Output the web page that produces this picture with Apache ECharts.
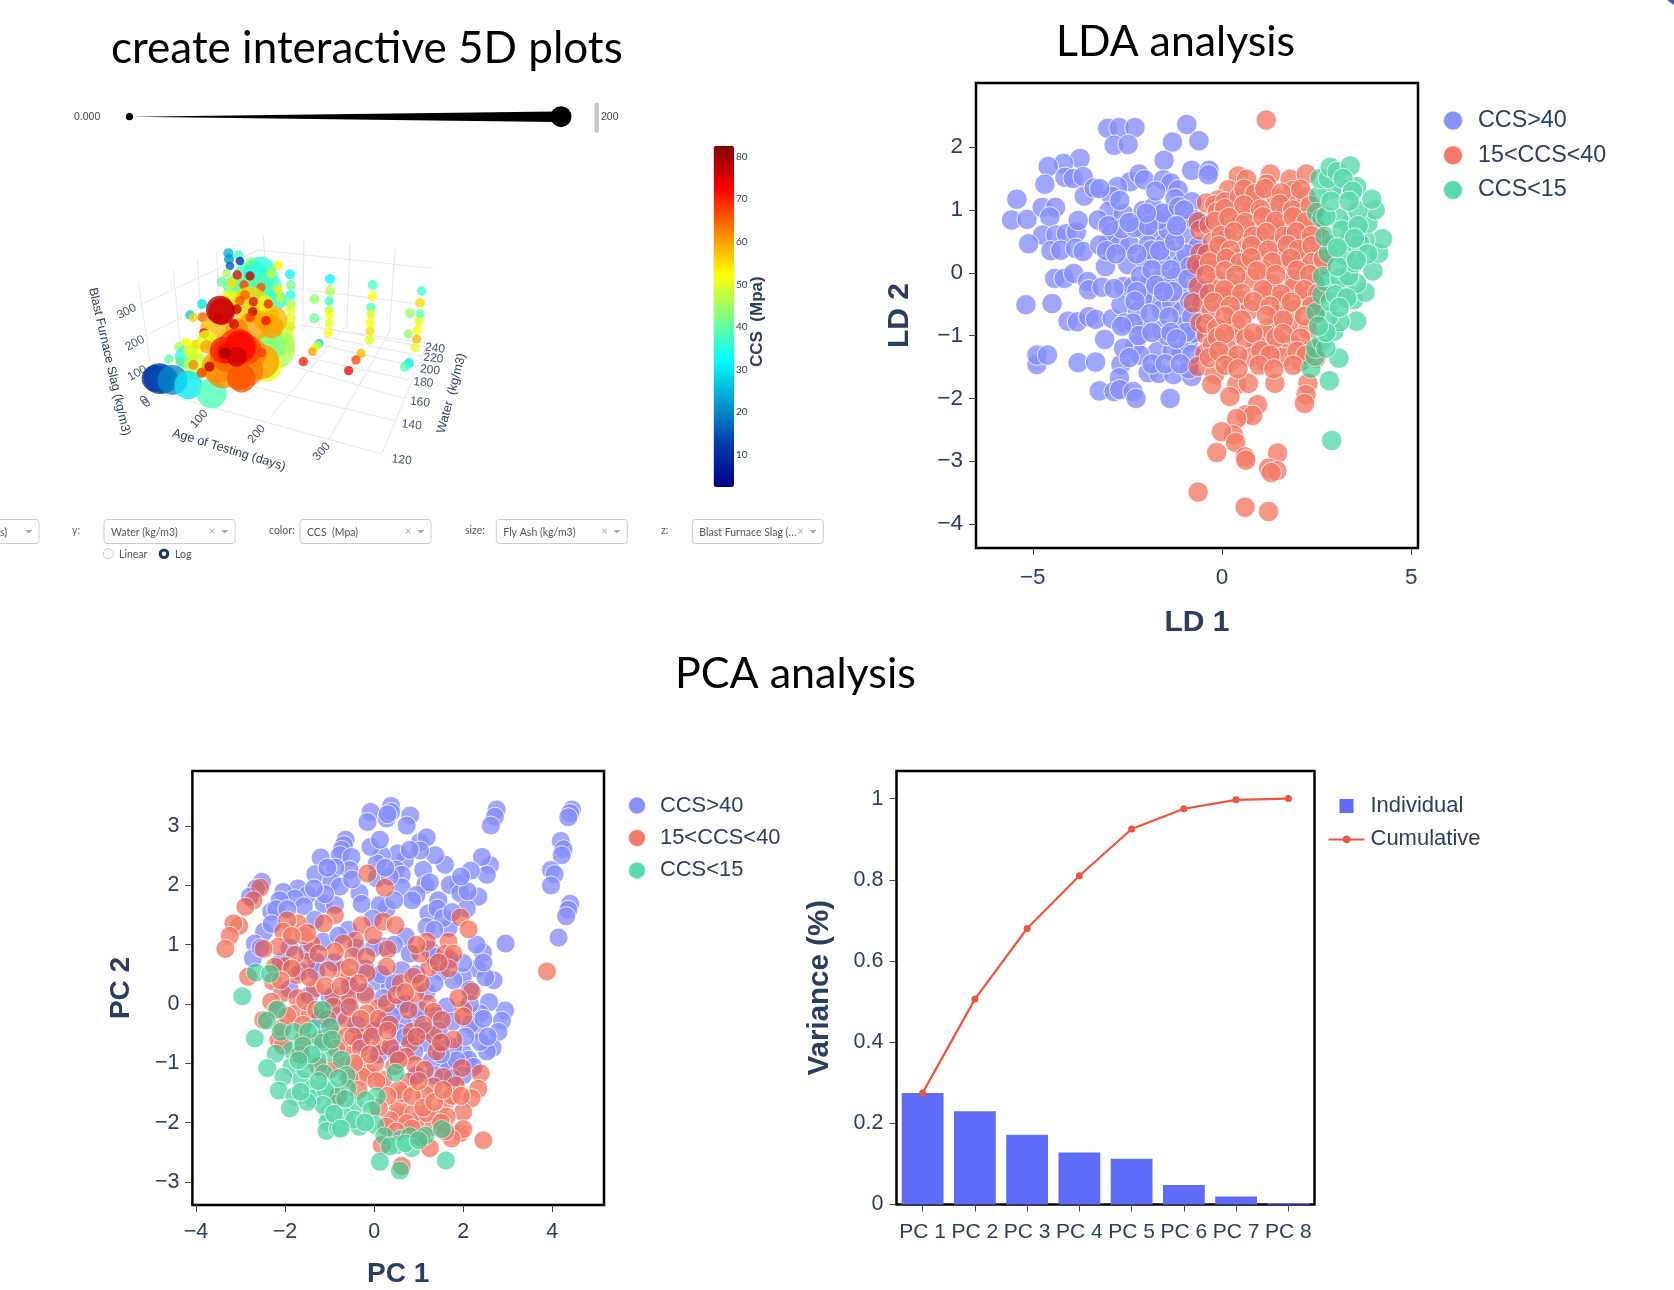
<!DOCTYPE html>
<html>
<head>
<meta charset="utf-8">
<title>5D, LDA and PCA analysis</title>
<script src="https://cdn.jsdelivr.net/npm/echarts@6/dist/echarts.min.js"></script>
<style>html,body{margin:0;padding:0;background:#fff}#chart{width:1674px;height:1290px}</style>
</head>
<body>
<div id="chart"></div>
<script>
// ---------- LDA ----------
const ldaHigh = [[-3.02,2.30],[-2.72,2.31],[-2.30,2.31],[-2.85,2.03],[-2.48,2.04],[-.93,2.36],[-.61,2.10],[-1.31,2.08],[-1.53,1.79],[-.80,1.63],[-.34,1.63],[-.36,1.56],[-3.75,1.82],[-4.19,1.74],[-4.59,1.69],[-4.68,1.41],[-4.15,1.52],[-3.93,1.50],[-3.67,1.53],[-3.64,1.22],[-3.38,1.35],[-5.42,1.17],[-5.56,.84],[-5.15,.85],[-4.75,1.04],[-4.40,1.04],[-4.55,.89],[-4.74,.60],[-5.11,.46],[-4.39,.60],[-4.11,.62],[-3.85,.65],[-4.52,.35],[-4.26,.36],[-3.87,.39],[-3.67,.34],[-4.42,-.09],[-4.17,-.09],[-3.92,-.01],[-3.55,-.14],[-3.52,-.27],[-3.17,-.23],[-5.18,-.51],[-4.49,-.49],[-4.07,-.77],[-3.82,-.78],[-3.52,-.70],[-3.34,-.74],[-2.90,-.73],[-3.10,-1.06],[-4.89,-1.46],[-4.89,-1.31],[-4.61,-1.31],[-3.80,-1.43],[-3.34,-1.42],[-2.67,-1.46],[-2.71,-1.67],[-3.24,-1.88],[-2.85,-1.89],[-2.70,-1.86],[-2.35,-1.89],[-2.27,-2.00],[-1.37,-2.00],[-1.95,-1.59],[-1.67,-1.60],[-1.28,-1.62],[-.80,-1.65],[-.87,-1.53],[-2.42,1.45],[-2.19,1.57],[-2.05,1.48],[-2.76,1.37],[-1.55,1.48],[-1.35,1.43],[-1.16,1.32],[-1.24,1.18],[-2.92,1.22],[-3.23,1.34],[-2.99,.98],[-2.61,.94],[-3.27,.84],[-3.80,.83],[-2.08,.99],[-1.82,1.04],[-1.38,.92],[-1.07,.83],[-.80,1.13],[-2.90,.65],[-2.99,.48],[-3.23,.44],[-2.70,.44],[-2.44,.44],[-2.06,.68],[-1.77,.68],[-1.95,.44],[-1.51,.47],[-1.24,.26],[-.98,.58],[-.71,.36],[-3.08,.10],[-2.49,.13],[-2.02,.19],[-1.60,.18],[-1.07,.15],[-.76,.05],[-2.61,-.22],[-2.35,-.22],[-1.64,-.11],[-1.77,-.40],[-2.67,-.51],[-2.23,-.62],[-1.60,-.59],[-1.07,-.27],[-1.33,-.48],[-1.07,-.62],[-2.04,-.91],[-1.60,-.91],[-1.07,-.85],[-2.30,-1.15],[-1.70,-1.25],[-1.07,-1.25],[-1.32,-1.25],[-2.17,-1.31],[-.89,-1.12],[-.76,-.96],[-.63,-.27],[-.63,.42],[-2.57,-.80],[-2.35,-.80],[-1.86,.36],[-1.42,.68],[-1.68,.84],[-1.20,-.06],[-1.45,-.22],[-1.95,-.18],[-2.10,-.40],[-.85,-.45],[-1.85,-1.45],[-1.45,-1.00],[-2.60,-1.20],[-.62,.80],[-.95,.30],
[-2.65,.70],[-2.30,.72],[-1.95,.75],[-1.55,.95],[-1.15,1.05],[-.75,.85],[-2.25,.30],[-1.65,.35],[-1.25,.50],[-.85,.10],[-2.15,-.05],[-1.85,.05],[-1.35,.05],[-.90,-.10],[-2.25,-.30],[-1.75,-.20],[-1.30,-.30],[-.80,-.70],[-2.30,-.45],[-1.90,-.65],[-1.40,-.70],[-.95,-.95],[-2.20,-1.00],[-1.85,-.95],[-1.35,-.95],[-.80,-1.30],[-2.45,-1.35],[-1.50,-1.45],[-1.10,-1.45],[-3.00,.75],[-3.05,.35],[-2.65,-.85],[-1.75,1.30],[-1.00,1.00],[-2.80,.30],[-2.85,-.25],[-1.20,.75],[-1.55,-.30],[-1.20,-1.05],[-2.00,.95],[-2.70,1.15],[-2.45,.80]];
const ldaMid = [[1.17,2.43],[.43,1.54],[.65,1.49],[1.28,1.57],[1.80,1.49],[2.23,1.57],[1.18,1.41],[1.88,1.31],[.17,1.32],[-.10,1.16],[-.41,1.11],[-.19,1.08],[.08,1.13],[-.63,.81],[-.58,.68],[-.58,.31],[-.05,.28],[-.54,.10],[-.63,-.22],[-.54,-.48],[-.76,-.48],[-.58,-.80],[-.41,-.99],[-.45,-1.28],[-.63,-1.49],[-.19,-1.62],[-.27,-1.78],[.39,-1.78],[.70,-1.76],[.21,-1.97],[1.40,-1.76],[2.27,-1.76],[2.22,-1.94],[2.18,-2.08],[.94,-2.10],[.63,-2.26],[.81,-2.27],[.39,-2.32],[.30,-2.58],[-.01,-2.53],[.36,-2.70],[-.14,-2.86],[1.47,-2.87],[.61,-2.93],[.63,-2.98],[1.23,-3.11],[1.45,-3.15],[1.30,-3.18],[-.63,-3.49],[.61,-3.73],[1.23,-3.80],
[.46,1.21],[.88,1.13],[1.43,1.18],[1.81,1.10],[2.22,1.20],[-.12,.97],[.31,.91],[.76,1.02],[1.24,.90],[1.69,.98],[2.08,.88],[2.44,.99],[-.34,.76],[.05,.69],[.48,.78],[.89,.66],[1.34,.75],[1.59,.69],[2.03,.80],[2.48,.70],[-.25,.49],[.14,.56],[.63,.47],[1.02,.57],[1.43,.46],[1.81,.58],[2.27,.48],[2.61,.55],[-.39,.30],[.41,.23],[.93,.32],[1.52,.24],[2.08,.33],[2.57,.25],[-.68,.13],[-.29,.06],[.64,.13],[1.06,.04],[1.70,.14],[2.13,.06],[2.62,.12],[-.17,-.11],[.33,-.17],[.75,-.09],[1.33,-.18],[1.90,-.10],[2.44,-.17],[-.25,-.25],[.27,-.26],[1.21,-.27],[1.88,-.24],[.02,-.37],[.49,-.44],[1.08,-.36],[1.55,-.43],[2.23,-.37],[-.29,-.59],[.29,-.66],[.75,-.58],[1.48,-.66],[1.90,-.58],[2.45,-.66],[-.43,-.81],[-.13,-.88],[.37,-.82],[1.21,-.89],[1.86,-.81],[2.27,-.90],[.31,-.97],[1.13,-.96],[-.25,-1.14],[.14,-1.21],[.90,-1.13],[1.42,-1.20],[1.83,-1.14],[2.39,-1.21],[-.33,-1.35],[.23,-1.41],[.73,-1.34],[1.15,-1.42],[1.61,-1.35],[2.08,-1.41],[2.48,-1.36],
[.58,1.33],[.87,1.26],[1.13,1.34],[1.57,1.27],[2.08,1.33],[.07,1.02],[.58,1.08],[1.02,1.01],[1.53,1.09],[1.87,1.00],[2.33,1.07],[-.18,.82],[.18,.88],[.62,.80],[1.08,.89],[1.42,.82],[1.88,.89],[2.22,.81],[-.02,.59],[.32,.65],[.83,.58],[1.17,.64],[1.65,.58],[1.97,.65],[2.37,.59],[-.08,.43],[.22,.36],[.78,.43],[1.22,.36],[1.73,.44],[2.02,.37],[2.38,.43],[-.33,.17],[.12,.23],[.48,.16],[.77,.24],[1.33,.17],[1.82,.23],[2.38,.16],[2.67,.22],[-.42,-.03],[.08,.03],[.37,-.04],[.93,.03],[1.42,-.03],[1.98,.04],[2.32,-.03],[-.33,-.33],[.07,-.27],[.52,-.33],[1.08,-.27],[1.57,-.34],[2.18,-.27],[2.53,-.33],[-.22,-.47],[.22,-.53],[.83,-.46],[1.27,-.53],[1.83,-.47],[2.37,-.53],[.08,-.69],[.52,-.75],[1.18,-.68],[1.62,-.75],[2.18,-.69],[-.12,-1.03],[.07,-.97],[.63,-1.04],[.82,-.96],[1.43,-1.03],[1.62,-.97],[2.08,-1.04],[-.08,-1.25],[.42,-1.31],[1.03,-1.24],[1.27,-1.31],[1.98,-1.25],[2.22,-1.31],[.08,-1.47],[.42,-1.53],[.98,-1.47],[1.37,-1.53],[1.88,-1.47]];
const ldaLow = [[2.90,-2.67],[2.84,-1.72],[3.09,-1.36],[2.35,-1.52],[2.46,-1.33],[2.48,-1.20],[2.64,-1.09],[2.96,-.93],[3.56,-.77],[3.12,-.78],[2.81,-.70],[2.48,-.63],[2.64,-.35],[2.86,-.46],[3.48,-.43],[3.78,-.31],[3.21,-.25],[3.56,-.17],[2.73,-.14],[2.66,-.06],[3.12,-.09],[3.35,-.05],[3.99,.03],[3.50,.16],[3.25,.27],[4.14,.31],[4.24,.54],[3.78,.52],[2.90,.44],[2.81,.31],[3.34,.50],[3.36,.76],[3.86,.79],[3.08,.87],[4.05,1.00],[3.59,.99],[3.96,1.17],[3.56,1.37],[3.21,1.33],[2.90,1.33],[2.55,1.22],[2.50,.96],[2.64,.87],[2.59,1.50],[2.81,1.50],[2.86,1.68],[3.04,1.61],[3.39,1.70],[2.72,.58],[3.64,.47],[3.17,.68],
[3.60,.75],[3.85,.30],[3.50,.55],[3.55,.20],[3.00,-.35],[3.30,-.40],[2.75,.90],[3.20,1.50],[3.45,1.30],[2.75,-1.20],[2.75,-.95],[3.10,-.55],[2.55,-.85],[3.05,.10],[3.05,.40],[2.88,1.14],[3.36,1.14]];
const ldaXTicks = [-5,0,5];
const ldaYTicks = [-4,-3,-2,-1,0,1,2];

// ---------- PCA scatter ----------
const pcaHigh = [[.38,3.34],[-.08,3.24],[.81,3.18],[.28,3.13],[-.15,3.07],[.73,3.01],[.38,3.24],[2.75,3.28],[2.71,3.16],[2.62,3.01],[4.44,3.28],[4.40,3.22],[4.36,3.15],[4.19,2.75],[4.25,2.61],[4.21,2.51],[3.97,2.26],[4.05,2.19],[3.97,2.00],[4.40,1.69],[4.36,1.59],[4.31,1.48],[4.14,1.12],[2.95,1.02],[2.68,.40],[2.94,-.11],[2.87,-.28],[2.79,-.47],[2.66,-.74],[2.53,-.80],[2.58,.03],[2.38,-.16],[2.27,-.44],[2.38,-.64],[2.00,-.83],[2.12,-.94],[2.44,.87],[2.30,1.00],[2.32,.60],[1.99,.46],[2.15,.24],[2.34,1.81],[1.89,2.03],[1.70,2.01],[2.60,2.34],[2.42,2.48],[2.53,2.18],[2.17,2.25],[1.93,1.87],[1.59,2.35],[1.37,2.51],[1.03,2.73],[1.18,2.81],[1.03,2.59],[.69,2.43],[.53,2.54],[.17,2.51],[.06,2.37],[-.08,2.65],[.13,2.77],[1.10,2.26],[.49,2.27],[.62,2.18],[.62,1.97],[1.15,2.01],[.95,1.84],[.06,2.12],[-.64,2.77],[-.68,2.68],[-.73,2.60],[-.77,2.51],[-.51,2.48],[-.55,2.26],[-1.20,2.47],[-.87,2.30],[-1.32,2.19],[-.96,2.06],[-.77,1.98],[-1.71,1.95],[-2.04,1.89],[-1.50,1.84],[-1.78,1.78],[-1.58,1.65],[-1.13,1.69],[-.88,1.67],[-.33,1.87],[-.28,1.69],[.28,1.61],[.13,1.67],[.85,1.75],[1.44,1.75],[1.22,1.53],[1.67,1.28],[2.08,1.61],[1.42,1.61],[-2.52,2.06],[-2.65,1.95],[-2.79,1.81],[-2.31,1.56],[-2.47,1.22],[-2.68,1.02],[-2.72,.77],[-2.12,1.75],[-1.33,1.42],[-.58,1.25],[-.03,1.44],[.71,1.14],[1.18,1.30],[-1.29,.71],[.06,.38],[.62,.57],[1.18,.21],[.95,-.27],[.65,-.33],[1.63,-.04],[2.00,.69],[1.78,.40],[1.25,.91],[.21,.97],[.58,-.49],[1.18,-.66],[1.78,-.72],[1.70,-1.00],[2.23,-1.06],[.58,-.04],[.81,-.55],
[.30,3.20],[-.50,2.10],[-1.05,2.30],[-1.10,1.85],[-1.35,1.95],[-2.20,1.60],[-1.95,1.60],[-2.30,1.35],[-2.55,.95],[1.25,2.05],[1.55,1.45],[1.75,1.55],[2.10,1.90],[1.95,2.15],[.35,2.15],[.80,2.60],[.25,2.30],[.45,1.75],[1.35,1.25],[2.15,-.35],[2.05,-.55],[2.15,0],[2.50,.45],[2.45,.70],[1.55,-.65],[1.50,.55],[.35,.30],[.25,-.30],[1.60,-1.10],[1.85,-.95],[2.45,-.25],[2.55,-.55],[.40,-.75],
[-1.90,.95],[-1.50,.90],[-1.15,1.05],[-.80,1.15],[-.40,.95],[0,.95],[.45,1.00],[.80,.85],[1.35,.80],[1.70,.75],[-2.10,.70],[-1.65,.55],[-1.30,.55],[-.90,.70],[-.55,.30],[-.20,.60],[.15,.50],[.45,.35],[.95,.50],[1.35,.35],[-1.90,.25],[-1.45,.15],[-1.00,.10],[-.60,0],[-.20,.20],[.20,.10],[.70,0],[1.00,-.10],[1.40,-.20],[1.75,-.30],[-1.20,-.25],[-.80,-.20],[-.40,-.35],[0,-.45],[.40,-.20],[.70,-.55],[1.15,-.45],[1.45,-.45],[-.30,-.65],[.10,-.85],[.50,-.85],[.90,-.80],[1.30,-.95],[1.50,-.85],[2.00,-1.20],[1.75,-1.25],[1.35,-1.20],[.95,-1.20]];
const pcaMid = [[-.15,2.20],[.24,1.96],[2.45,-2.30],[3.88,.55],[1.94,1.46],[2.12,1.26],[-2.56,1.96],[-2.71,1.75],[-2.89,1.64],[-3.03,1.32],[-3.16,1.36],[-3.24,1.15],[-3.34,.93],[-.88,1.50],[-1.13,1.36],[-1.71,1.36],[-1.95,1.41],[-2.04,1.22],[-1.41,1.02],[-1.59,1.16],[-2.14,.97],[-2.48,.93],[-.28,1.33],[-.02,1.16],[.20,1.39],[.48,1.33],[.30,.92],[.28,.63],[-.43,1.07],[-.69,1.02],[-.88,.88],[-.47,.80],[-.17,.80],[-.17,.52],[-.73,.57],[-.57,.45],[-1.03,.57],[-1.52,.71],[-1.78,.83],[-2.00,.64],[-2.23,.63],[-2.83,.46],[-1.74,.49],[-2.27,.38],[-2.06,.18],[-1.72,.10],[-1.33,.26],[-.92,.15],[-.54,.12],[-.19,.15],[-2.31,.04],[-1.79,-.17],[-.62,-.28],[-.21,-.48],[.09,-.07],[.28,.01],[-.02,-.35],[.77,-.10],[1.20,.01],[1.33,-.13],[2.00,-.10],[2.19,.21],[1.89,.10],[.92,.18],[.60,.35],[.88,.46],[1.24,.62],[1.03,.85],[1.18,1.05],[1.67,1.05],[1.59,.85],[1.78,.85],[1.67,.60],[.84,-.47],[.81,-.66],[1.33,-.52],[1.40,-.80],[1.78,-.60],[1.52,-.27],[2.00,-.21],[.13,-.72],[.36,-.72],[.71,-.89],[.92,-1.03],[1.14,-1.11],[1.55,-1.23],[1.33,-1.39],[1.97,-1.08],[1.83,-1.37],[2.39,-1.17],[2.34,-1.43],[2.19,-1.59],[1.63,-1.62],[1.14,-1.53],[2.00,-1.82],[1.44,-1.86],[.95,-2.01],[.56,-1.87],[.54,-1.76],[.77,-1.31],[1.93,-2.18],[2.00,-2.11],[1.74,-2.27],[1.25,-2.43],[.17,-2.38],[.62,-2.73],[-.32,-1.03],[-.13,-1.17],[.20,-1.28],[-.58,-.72],[-.92,-.49],[-.24,-1.23],[.02,-1.00],[-2.49,-.27],[-2.15,-.61],[-.62,-.55],[-1.44,-.16],[-2.06,-.41],[-1.59,-.61],[.36,-1.96],[.88,-1.84],[1.33,-2.07],[.73,-2.01],[1.63,-1.90],[1.18,-1.84],[.28,-2.07],[.65,-1.51],[-.92,-.04],[-.17,-.16],[-.47,-.55],
[-1.50,1.20],[-1.85,1.15],[-1.25,.85],[-1.85,.60],[-2.10,.40],[-1.45,.45],[-1.10,.30],[-1.55,.05],[-1.30,-.10],[-1.05,-.25],[-.75,.30],[-.55,-.05],[-.35,.35],[-.55,.62],[-.30,-.25],[.10,-.25],[.35,-.35],[.50,.15],[.70,.20],[-.30,-.75],[-.05,-.55],[.05,-1.30],[-.10,-.85],[.30,-.45],[.45,-1.05],[.55,-1.45],[.30,-1.55],[.10,-1.75],[.85,-1.55],[1.00,-1.30],[1.10,-1.75],[1.35,-1.65],[1.75,-1.55],[1.95,-1.55],[1.55,-1.45],[1.50,-.65],[1.10,-.35],[1.05,.35],[1.45,.70],[.95,1.00],[1.50,-2.00],[1.05,-2.25],[.85,-2.10],[.50,-2.15],[1.60,-2.15],[.95,-.55],[.55,-.95],[-.75,-1.00],[-.45,-1.00],[-2.20,-.10],[-1.95,-.20],[-2.05,-.70],
[-1.60,-.35],[-1.20,-.60],[-.85,-.75],[-.55,-1.25],[-.80,-1.55],[-1.00,-1.10],[-1.25,-1.05],[-1.65,-.85],[-.35,-1.45]];
const pcaLow = [[-2.96,.13],[-2.66,.53],[-2.34,.51],[-2.17,-.09],[-2.41,-.28],[-2.68,-.58],[-1.16,-.10],[-2.10,-.47],[-1.80,-.47],[-1.33,-.41],[-.99,-.39],[-1.48,-.47],[-1.29,-.72],[-.99,-.82],[-1.86,-.78],[-1.52,-.94],[-2.21,-.84],[-2.40,-1.08],[-1.86,-1.06],[-1.27,-.94],[-.73,-.94],[-2.04,-1.23],[-1.63,-1.28],[-1.13,-1.17],[-.62,-1.20],[-.60,-1.42],[-2.14,-1.46],[-1.79,-1.56],[-1.89,-1.76],[-1.37,-1.42],[-1.37,-1.59],[-.96,-1.45],[-.88,-1.68],[-.43,-1.71],[.06,-1.56],[-.19,-1.62],[-.06,-1.79],[-1.03,-1.84],[-1.05,-2.00],[-1.07,-2.14],[-.81,-2.10],[-.66,-1.90],[-.33,-2.07],[.02,-2.04],[.48,-1.16],[.23,-2.23],[.60,-2.28],[.80,-2.23],[.50,-2.38],[.84,-2.43],[1.15,-2.22],[1.52,-2.11],[.13,-2.66],[1.61,-2.64],[.58,-2.81],
[-1.55,-1.10],[-1.60,-.70],[-1.15,-.65],[-1.10,-1.45],[-.80,-1.25],[-1.15,-1.70],[-1.50,-1.65],[-1.65,-1.48],[-.90,-1.85],[-.45,-1.95],[-.20,-2.00],[-.65,-1.60],[-1.25,-1.30],[-1.40,-.85],[-.75,-2.10],[.35,-2.40],[.70,-2.35],[1.00,-2.30],[-.95,-.60],[-1.70,-.95]];
const pcaXTicks = [-4,-2,0,2,4];
const pcaYTicks = [-3,-2,-1,0,1,2,3];

// ---------- Explained variance ----------
const pcNames = ['PC 1','PC 2','PC 3','PC 4','PC 5','PC 6','PC 7','PC 8'];
const individual = [.275,.23,.172,.128,.113,.048,.02,.004];
const cumulative = [.275,.506,.68,.81,.925,.975,.997,1.0];
const varTicks = [0,.2,.4,.6,.8,1];

// ---------- 5D bubble scene (view projection: across, down, bubble size, CCS) ----------
const bubbles = [
[515,160,130,37],[540,130,100,35],[505,190,100,42],[560,170,90,38],[590,210,60,36],[460,170,60,40],[445,70,30,24],[447,88,30,22],[450,108,26,16],[475,75,30,38],[480,93,26,10],[510,95,26,42],
[1025,183,28,37],[1020,218,30,55],[1020,252,28,40],[1017,275,28,50],[1012,300,28,52],[1010,327,28,58],[1005,353,28,50],[990,250,30,44],[985,312,28,44],
[878,165,30,38],[877,198,28,52],[873,232,28,38],[873,252,28,50],[870,278,28,52],[870,303,28,55],[868,330,28,50],
[750,147,30,32],[750,182,30,46],[748,213,28,37],[748,240,28,47],[748,255,28,52],[748,280,28,50],[745,308,28,52],[703,208,30,44],[703,265,30,41],
[594,106,28,53],[630,133,30,32],[632,165,30,42],[632,195,30,35],[632,222,30,45],[632,240,30,50],[632,265,30,50],[632,290,28,55],
[987,400,30,30],[975,410,30,38],[843,370,28,58],[828,390,28,67],[806,422,28,72],[717,340,26,27],[713,345,26,45],[705,352,26,50],[697,365,26,60],[670,395,28,70],
[366,222,30,30],[330,255,28,27],[340,262,28,56],[368,262,30,65],[297,350,30,46],[317,337,28,52],[267,387,28,40],[300,395,28,58],
[440,130,26,46],[472,135,28,72],[510,138,28,78],[425,155,30,40],[455,160,30,55],[492,165,28,68],[573,131,28,48],[595,180,28,54],[543,172,28,66],[600,205,26,48],
[610,340,70,45],[600,310,80,48],[590,360,110,46],[570,345,90,42],[450,210,60,52],[510,225,110,56],[555,260,80,58],[580,270,85,58],[555,220,50,50],[575,290,70,60],[520,290,90,60],[470,300,70,62],[495,195,30,65],[480,212,28,66],[400,300,80,58],
[420,240,85,78],[425,245,80,76],[415,265,30,76],[470,238,30,78],[520,215,28,72],[518,245,28,78],[565,222,28,70],[510,262,28,68],[462,283,30,76],[372,310,30,72],[347,345,28,66],
[320,380,70,35],[340,360,60,52],[350,410,80,48],[380,330,60,50],[225,445,80,8],[238,446,92,12],[252,448,85,14],[278,450,90,20],[325,465,85,30],[395,490,90,38],
[415,410,100,60],[560,410,90,50],[380,350,40,60],[340,405,30,62],[545,395,105,60],[510,370,100,62],[430,420,110,62],[500,420,100,63],[480,440,80,64],[440,375,100,65],[485,445,85,66],[500,360,90,67],[470,350,110,68],[470,350,80,68],[480,350,100,70],[430,360,80,70],[440,370,60,72],[480,350,90,72],[470,380,60,76],
[435,370,34,80],[388,410,30,78],[365,428,30,68],[545,368,28,68],[558,272,28,72]
];
const sceneWire = [
[[415,537],[905,672]],[[250,493],[415,537]],[[520,470],[945,572]],[[610,400],[970,505]],[[650,375],[990,450]],[[700,340],[1010,410]],[[730,320],[1025,378]],[[760,300],[1040,352]],
[[405,540],[640,295]],[[560,575],[795,290]],[[745,630],[925,310]],[[905,672],[1045,335]],
[[175,155],[210,395]],[[280,120],[300,340]],[[352,88],[365,290]],[[410,65],[418,250]],[[550,15],[555,100]],[[672,28],[668,300]],[[810,40],[800,300]],[[945,55],[928,312]],
[[535,60],[1060,115]],[[640,175],[1045,225]],[[660,285],[1040,340]],[[180,225],[535,60]],[[190,320],[410,210]]
];
const sceneTicks = [
['300',140,245,28],['200',165,340,28],['100',172,430,28],['0',193,510,50],['0',200,520,50],
['100',358,567,48],['200',530,612,48],['300',725,665,48],
['120',965,690,-6],['140',995,585,-6],['160',1020,517,-6],['180',1030,458,-6],['200',1050,420,-6],['220',1060,385,-6],['240',1065,355,-6]
];
const sceneTitles = [
['Blast Furnace Slag (kg/m3)',88,395,-77],['Age of Testing (days)',447,660,-17],['Water  (kg/m3)',1115,490,75]
];
const ccsTicks = [10,20,30,40,50,60,70,80];
const jet = ['rgb(0,0,131)','rgb(0,60,170)','rgb(3,157,212)','rgb(5,255,255)','rgb(130,255,128)','rgb(255,255,0)','rgb(252,128,0)','rgb(250,0,0)','rgb(128,0,0)'];

// ---------- Control-panel text ----------
const dropdowns = [
  {label:'', value:'s)', left:-92, textX:0},
  {label:'y:', value:'Water (kg/m3)', left:104, labelX:72},
  {label:'color:', value:'CCS  (Mpa)', left:300, labelX:269},
  {label:'size:', value:'Fly Ash (kg/m3)', left:496.3, labelX:465},
  {label:'z:', value:'Blast Furnace Slag (…', left:692.3, labelX:661}
];

// ---------- styling ----------
const INK = '#2a3f5f', SANS = '"Liberation Sans", Arial, sans-serif', TITLE = 'Lato, "Open Sans", sans-serif';
const BLUE = '#636efa', RED = '#ef553b', GREEN = '#2acd94', TRACE_OPACITY = .77;
const minus = v => String(v).replace('-', '\u2212');

function frameGrid(left, top, right, bottom) {
  return {show:true, left, top, width:right-left, height:bottom-top, backgroundColor:'transparent', borderColor:'#000', borderWidth:2.5, containLabel:false};
}
function valAxis(gridIndex, min, max, ticks, name, font, nameFont, gap, margin, padding) {
  return {type:'value', gridIndex, min, max, name, nameLocation:'middle', nameGap:gap,
    nameTextStyle:{color:INK, fontFamily:SANS, fontWeight:'bold', fontSize:nameFont},
    splitLine:{show:false}, axisLine:{show:false, onZero:false},
    axisTick:{show:true, length:7, customValues:ticks, lineStyle:{color:'#444', width:1}},
    axisLabel:{color:INK, fontFamily:SANS, fontSize:font, margin, padding:padding||0, customValues:ticks, formatter:minus}};
}
// each class sits on its own canvas layer, so the layer opacity blends classes but not points of one class
function cloud(name, data, color, size, xi, layer) {
  return {type:'scatter', name, data, xAxisIndex:xi, yAxisIndex:xi, symbol:'circle', symbolSize:size, clip:true, zlevel:layer,
    itemStyle:{color, borderColor:'#fff', borderWidth:1}, emphasis:{disabled:true}};
}
const classLegend = [
  {name:'CCS>40', itemStyle:{color:BLUE, opacity:TRACE_OPACITY}},
  {name:'15<CCS<40', itemStyle:{color:RED, opacity:TRACE_OPACITY}},
  {name:'CCS<15', itemStyle:{color:GREEN, opacity:TRACE_OPACITY}}
];

// ---------- control graphics ----------
const g = [];
const txt = (x,y,text,size,fill,family,extra) => g.push(Object.assign({type:'text', x, y, style:{text, fontSize:size, fill:fill||'#444', fontFamily:family||TITLE, textVerticalAlign:'middle'}}, extra||{}));
dropdowns.forEach(d => {
  g.push({type:'rect', shape:{x:d.left, y:519.5, width:131, height:24, r:3}, style:{fill:'#fff', stroke:'#ccc', lineWidth:1}});
  if (d.label) txt(d.labelX, 530.5, d.label, 10.5, '#555');
  txt(d.textX !== undefined ? d.textX : d.left+7, 532.5, d.value, 10.5, '#555');
  if (d.label) txt(d.left+105, 531, '\u00d7', 11, '#aaa');
  const ax = d.left+120.7;
  g.push({type:'polygon', shape:{points:[[ax-3.5,530],[ax+3.5,530],[ax,533.5]]}, style:{fill:'#aaa'}});
});
g.push({type:'circle', shape:{cx:108.3, cy:553.7, r:5}, style:{fill:'#fff', stroke:'#ccc', lineWidth:1}});
txt(119, 554.5, 'Linear', 10.5, '#555');
g.push({type:'circle', shape:{cx:164, cy:553.7, r:3.8}, style:{fill:'#fff', stroke:'#1f3a5f', lineWidth:3}});
txt(175, 554.5, 'Log', 10.5, '#555');
// slider
txt(74, 117.5, '0.000', 10.5, '#444', SANS);
g.push({type:'circle', shape:{cx:129.5, cy:116.7, r:3.6}, style:{fill:'#000'}});
g.push({type:'polygon', shape:{points:[[131,116.7],[555,111.5],[555,122],[131,116.7]]}, style:{fill:'#000'}});
g.push({type:'circle', shape:{cx:561, cy:116.7, r:10.5}, style:{fill:'#000'}});
g.push({type:'rect', shape:{x:594.5, y:102.7, width:4.5, height:30, r:2}, style:{fill:'#c6c6c6'}});
txt(601, 117.5, '200', 10.5, '#444', SANS);
// window corner
g.push({type:'polygon', shape:{points:[[1667,0],[1674,0],[1674,5]]}, style:{fill:'#2f5fa5'}});
// 3D scene titles and colour-bar title
sceneTitles.forEach(t => g.push({type:'text', x:80+t[1]/3, y:230+t[2]/3, rotation:t[3]*Math.PI/180,
  style:{text:t[0], fontSize:12.5, fill:INK, fontFamily:SANS, textAlign:'center', textVerticalAlign:'middle'}}));
g.push({type:'text', x:757, y:321.7, rotation:Math.PI/2,
  style:{text:'CCS  (Mpa)', fontSize:17, fontWeight:'bold', fill:INK, fontFamily:SANS, textAlign:'center', textVerticalAlign:'middle'}});

// ---------- option ----------
const titleStyle = size => ({fontFamily:TITLE, fontWeight:'normal', fontSize:size, color:'#000'});
const option = {
  backgroundColor:'#fff', animation:false,
  title:[
    {text:'create interactive 5D plots', left:111, top:27, textStyle:titleStyle(44), padding:0},
    {text:'LDA analysis', left:1056, top:21, textStyle:titleStyle(42.8), padding:0},
    {text:'PCA analysis', left:675, top:653, textStyle:titleStyle(43), padding:0}
  ],
  grid:[
    {left:80, top:230, width:400, height:250, show:false},
    frameGrid(976,83,1418,548),
    frameGrid(192.4,771,604,1205),
    frameGrid(896.5,771,1314.5,1204.5),
    {left:713.6, top:145.7, width:20.4, height:341.3, show:false}
  ],
  xAxis:[
    {type:'value', gridIndex:0, min:0, max:1200, show:false},
    valAxis(1,-6.5,5.18,ldaXTicks,'LD 1',22.5,30,60,18),
    valAxis(2,-4.08,5.16,pcaXTicks,'PC 1',21.5,28,55,16),
    {type:'category', gridIndex:3, data:pcNames, name:'', splitLine:{show:false}, axisLine:{show:false, onZero:false},
      axisTick:{show:true, alignWithLabel:true, length:7, lineStyle:{color:'#444', width:1}},
      axisLabel:{color:INK, fontFamily:SANS, fontSize:21, margin:17, interval:0, hideOverlap:false}},
    {type:'value', gridIndex:4, min:0, max:1, show:false}
  ],
  yAxis:[
    {type:'value', gridIndex:0, min:0, max:750, inverse:true, show:false},
    valAxis(1,-4.38,3.02,ldaYTicks,'LD 2',22.5,30,61,13,[3,0,0,0]),
    valAxis(2,-3.39,3.93,pcaYTicks,'PC 2',21.5,28,57,13,[3,0,0,0]),
    valAxis(3,0,1.068,varTicks,'Variance (%)',21.5,29.5,62,13,[2,0,0,0]),
    {type:'value', gridIndex:4, min:2.33, max:82.6, position:'right',
      splitLine:{show:false}, axisLine:{show:false, onZero:false}, axisTick:{show:false},
      axisLabel:{color:INK, fontFamily:TITLE, fontSize:10, margin:2, customValues:ccsTicks}}
  ],
  visualMap:[{
    type:'continuous', min:2.33, max:82.6, dimension:3, seriesIndex:1, calculable:false, show:true,
    left:713.6, top:145.7, itemWidth:20.4, itemHeight:341.3, padding:0, text:null, showLabel:false, textStyle:{fontSize:0},
    inRange:{color:jet}
  }],
  legend:[
    {data:classLegend, orient:'vertical', left:1442, top:108.6, padding:0, itemWidth:20, itemHeight:20, itemGap:10.7, selectedMode:false,
      textStyle:{color:INK, fontFamily:SANS, fontSize:23.3, lineHeight:24, padding:[0,0,0,10]}},
    {data:classLegend, orient:'vertical', left:627, top:794.6, padding:0, itemWidth:18, itemHeight:18, itemGap:10.4, selectedMode:false,
      textStyle:{color:INK, fontFamily:SANS, fontSize:21.9, lineHeight:22, padding:[0,0,0,9]}},
    {data:[{name:'Individual', icon:'path://M0,0H10V10H0Z'},{name:'Cumulative', icon:'path://M0,3H14.2A4,4 0 0 1 21.8,3H36V5H21.8A4,4 0 0 1 14.2,5H0Z'}],
      orient:'vertical', left:1328.5, top:795, padding:0, itemWidth:36, itemHeight:14, itemGap:11.4, selectedMode:false,
      textStyle:{color:INK, fontFamily:SANS, fontSize:22, lineHeight:22, padding:[0,0,0,1]}}
  ],
  series:[
    {type:'line', name:'scene wire', xAxisIndex:0, yAxisIndex:0, symbol:'none', silent:true, connectNulls:false, z:1,
      data:sceneWire.flatMap(s => [s[0], s[1], ['-','-']]), lineStyle:{color:'#e4e7f2', width:1}},
    {type:'scatter', name:'5D', xAxisIndex:0, yAxisIndex:0, data:bubbles, symbolSize:v => v[2]/3, z:2, clip:false,
      itemStyle:{opacity:.78}, emphasis:{disabled:true}},
    {type:'scatter', name:'scene text', xAxisIndex:0, yAxisIndex:0, symbolSize:0, silent:true, z:3, clip:false, itemStyle:{opacity:0},
      data:sceneTicks.map(t => ({name:t[0], value:[t[1],t[2]], label:{show:true, position:'inside', formatter:'{b}', rotate:t[3], color:INK, fontFamily:SANS, fontSize:12, opacity:.9}}))},
    cloud('CCS>40', ldaHigh, BLUE, 20.5, 1, 1), cloud('15<CCS<40', ldaMid, RED, 20.5, 1, 2), cloud('CCS<15', ldaLow, GREEN, 20.5, 1, 3),
    cloud('CCS>40', pcaHigh, BLUE, 19, 2, 1), cloud('15<CCS<40', pcaMid, RED, 19, 2, 2), cloud('CCS<15', pcaLow, GREEN, 19, 2, 3),
    {type:'bar', name:'Individual', xAxisIndex:3, yAxisIndex:3, data:individual, barWidth:'80%', itemStyle:{color:'#5f6cf9'}},
    {type:'line', name:'Cumulative', xAxisIndex:3, yAxisIndex:3, data:cumulative, symbol:'circle', symbolSize:7, smooth:false, z:5, lineStyle:{color:'#ef553b', width:2.2}, itemStyle:{color:'#ef553b'}}
  ],
  graphic:g
};
const chart = echarts.init(document.getElementById('chart'), null, {renderer:'canvas', width:1674, height:1290});
chart.setOption(option);
function fadeLayers() {
  [1,2,3].forEach(z => {
    const layer = chart.getZr().painter.getLayer(z);
    if (layer && layer.dom) layer.dom.style.opacity = TRACE_OPACITY;
  });
}
fadeLayers();
chart.on('finished', fadeLayers);
</script>
</body>
</html>
